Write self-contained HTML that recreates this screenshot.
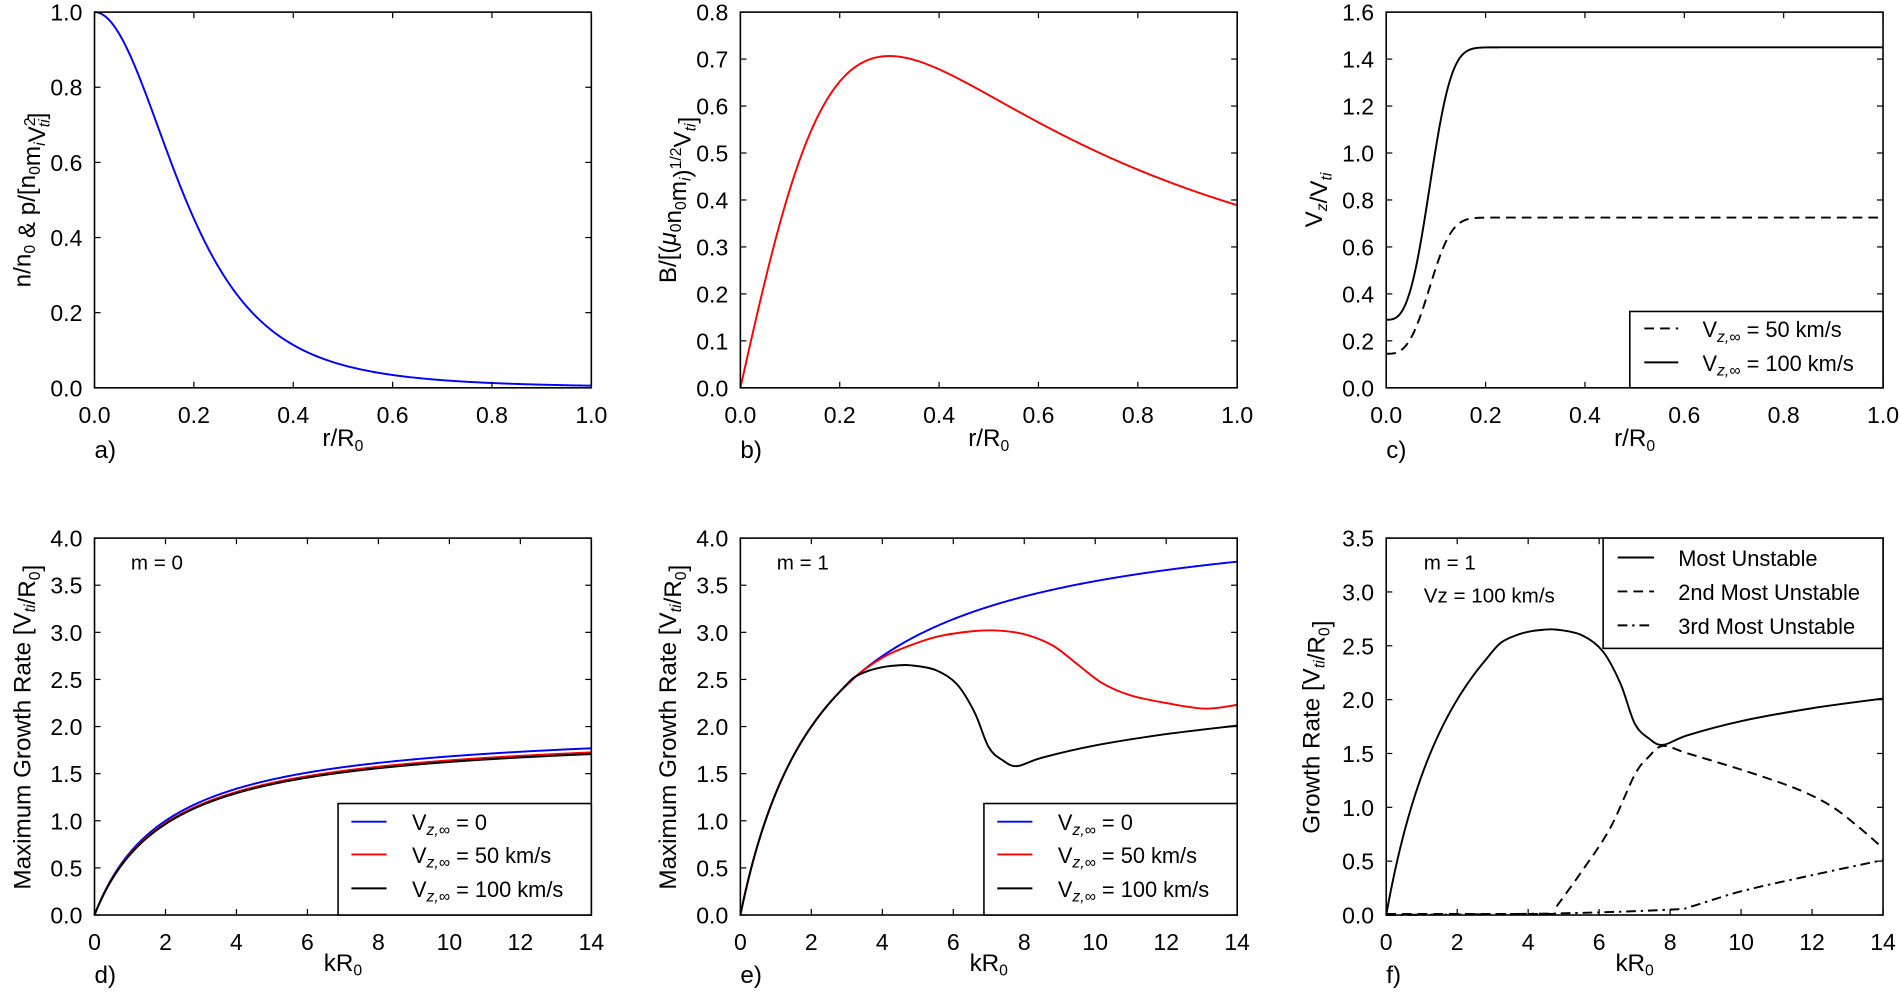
<!DOCTYPE html>
<html><head><meta charset="utf-8">
<style>
html,body{margin:0;padding:0;background:#fff;}
svg{display:block;}
text{font-family:"Liberation Sans",sans-serif;fill:#000;}
</style></head>
<body>
<svg id="s" width="1900" height="995" viewBox="0 0 1568 821" preserveAspectRatio="none" xmlns="http://www.w3.org/2000/svg"></svg>
<script>
const S=document.getElementById('s');
let out='';
function P(L,T,R,B,x0,x1,y0,y1){return {L,T,R,B,x0,x1,y0,y1,
 X:v=>L+(v-x0)/(x1-x0)*(R-L), Y:v=>B-(v-y0)/(y1-y0)*(B-T)};}
function axes(p,xt,yt,xf,yf){
 out+=`<rect x="${p.L}" y="${p.T}" width="${p.R-p.L}" height="${p.B-p.T}" fill="none" stroke="#000" stroke-width="1.3"/>`;
 xt.forEach(v=>{const x=p.X(v);
  out+=`<line x1="${x}" y1="${p.B}" x2="${x}" y2="${p.B-5}" stroke="#000"/><line x1="${x}" y1="${p.T}" x2="${x}" y2="${p.T+5}" stroke="#000"/>`;
  out+=`<text x="${x}" y="${p.B+29}" font-size="19" text-anchor="middle">${xf(v)}</text>`;});
 yt.forEach(v=>{const y=p.Y(v);
  out+=`<line x1="${p.L}" y1="${y}" x2="${p.L+5}" y2="${y}" stroke="#000"/><line x1="${p.R}" y1="${y}" x2="${p.R-5}" y2="${y}" stroke="#000"/>`;
  out+=`<text x="${p.L-10}" y="${y+7}" font-size="19" text-anchor="end">${yf(v)}</text>`;});
}
function rng(a,b,s){const r=[];for(let v=a;v<=b+1e-9;v+=s)r.push(+v.toFixed(6));return r;}
function fpath(p,f,a,b,col,dash,w){let d='';const n=400;for(let i=0;i<=n;i++){const x=a+(b-a)*i/n;d+=(i?'L':'M')+p.X(x).toFixed(2)+','+p.Y(f(x)).toFixed(2);}
 out+=`<path d="${d}" fill="none" stroke="${col}" stroke-width="${w||1.6}" ${dash?`stroke-dasharray="${dash}"`:''}/>`;}
function spath(p,pts,col,dash){
 let d='M'+p.X(pts[0][0])+','+p.Y(pts[0][1]);
 const q=pts.map(a=>[p.X(a[0]),p.Y(a[1])]);
 for(let i=0;i<q.length-1;i++){const p0=q[Math.max(0,i-1)],p1=q[i],p2=q[i+1],p3=q[Math.min(q.length-1,i+2)];
  d+=`C${p1[0]+(p2[0]-p0[0])/6},${p1[1]+(p2[1]-p0[1])/6} ${p2[0]-(p3[0]-p1[0])/6},${p2[1]-(p3[1]-p1[1])/6} ${p2[0]},${p2[1]}`;}
 out+=`<path d="${d}" fill="none" stroke="${col}" stroke-width="1.6" ${dash?`stroke-dasharray="${dash}"`:''}/>`;}
const f1=v=>v.toFixed(1), f0=v=>String(v);
const a=P(78,10,488,320,0,1,0,1), b=P(611,10,1021,320,0,1,0,0.8), c=P(1144,10,1554,320,0,1,0,1.6);
const d=P(78,444,488,755,0,14,0,4), e=P(611,444,1021,755,0,14,0,4), f=P(1144,444,1554,755,0,14,0,3.5);
fpath(a,r=>1/Math.pow(1+(r/0.2857)**2,2),0,1,'#0000ff');
fpath(b,r=>4.71*r/(1+(r/0.3)**2),0,1,'#ff0000');
const vz=r=>0.29+1.16*(1-Math.exp(-Math.pow(r/0.1,3)));
fpath(c,vz,0,1,'#000');
fpath(c,r=>vz(r)/2,0,1,'#000','8,5');
const g0=(k,A,B)=>A*k/(k+B);
fpath(d,k=>g0(k,2.03,2.06),0,14,'#0000ff');
fpath(d,k=>g0(k,2.03,2.06)*0.975,0,14,'#ff0000');
fpath(d,k=>g0(k,2.03,2.06)*0.965,0,14,'#000');
const g1=k=>g0(k,4.39,2.39);
fpath(e,g1,0,14,'#0000ff');
const red=[[3.0,g1(3.0)],[3.4,g1(3.4)],[4.0,2.73],[4.5,2.82],[5.5,2.95],[6.5,3.01],[7.2,3.02],[8,2.98],[8.8,2.86],[9.5,2.66],[10.2,2.46],[11,2.33],[12,2.25],[13.1,2.19],[14,2.23]];
fpath(e,g1,0,3.0,'#ff0000');
spath(e,red,'#ff0000');
const blk=[[2.8,g1(2.8)],[3.2,2.52],[3.6,2.59],[4.0,2.63],[4.4,2.648],[4.8,2.65],[5.5,2.6],[6.1,2.45],[6.6,2.15],[7.0,1.78],[7.4,1.64],[7.8,1.58],[8.5,1.67],[10,1.8],[12,1.92],[14,2.01]];
fpath(e,g1,0,2.8,'#000');spath(e,blk,'#000');
fpath(f,g1,0,2.8,'#000');spath(f,blk,'#000');
spath(f,[[0,0.01],[4.8,0.01]],'#000','8,5');
spath(f,[[4.8,0.08],[5.5,0.4],[6.3,0.8],[7.0,1.3],[7.4,1.47],[7.8,1.57],[8.5,1.5],[10,1.35],[11.5,1.18],[12.5,1.02],[13.3,0.82],[14,0.62]],'#000','8,5');
spath(f,[[0,0.0],[4.8,0.015],[8,0.05],[8.6,0.08],[10,0.22],[12,0.37],[14,0.51]],'#000','8,4,2,4');
axes(a,rng(0,1,0.2),rng(0,1,0.2),f1,f1);
axes(b,rng(0,1,0.2),rng(0,0.8,0.1),f1,f1);
axes(c,rng(0,1,0.2),rng(0,1.6,0.2),f1,f1);
axes(d,rng(0,14,2),rng(0,4,0.5),f0,f1);
axes(e,rng(0,14,2),rng(0,4,0.5),f0,f1);
axes(f,rng(0,14,2),rng(0,3.5,0.5),f0,f1);
[[a,'r/R<tspan font-size="13" dy="4">0</tspan>','a)',368],[b,'r/R<tspan font-size="13" dy="4">0</tspan>','b)',368],[c,'r/R<tspan font-size="13" dy="4">0</tspan>','c)',368],
 [d,'kR<tspan font-size="13" dy="4">0</tspan>','d)',801],[e,'kR<tspan font-size="13" dy="4">0</tspan>','e)',801],[f,'kR<tspan font-size="13" dy="4">0</tspan>','f)',801]].forEach(([p,t,l,y])=>{
 out+=`<text x="${(p.L+p.R)/2}" y="${y}" font-size="20" text-anchor="middle">${t}</text>`;
 out+=`<text x="${p.L}" y="${y+10}" font-size="20">${l}</text>`;});
function yl(x,y,t){out+=`<text transform="translate(${x},${y}) rotate(-90)" font-size="20" text-anchor="middle">${t}</text>`;}
const sub=(t)=>`<tspan font-size="13" dy="4">${t}</tspan><tspan dy="-4"></tspan>`;
const it=(t)=>`<tspan font-size="13" dy="4" font-style="italic">${t}</tspan><tspan dy="-4"></tspan>`;
yl(25,165,`n/n${sub('0')} &amp; p/[n${sub('0')}m${it('i')}V<tspan font-size="13" dy="-8">2</tspan><tspan font-size="13" dy="12" dx="-8" font-style="italic">ti</tspan><tspan dy="-4">]</tspan>`);
yl(558,165,`B/[(<tspan font-style="italic">μ</tspan>${sub('0')}n${sub('0')}m${it('i')})<tspan font-size="13" dy="-8">1/2</tspan><tspan dy="8">V</tspan>${it('ti')}]`);
yl(1091,165,`V${it('z')}/V${it('ti')}`);
yl(25,600,`Maximum Growth Rate [V${it('ti')}/R${sub('0')}]`);
yl(558,600,`Maximum Growth Rate [V${it('ti')}/R${sub('0')}]`);
yl(1089,600,`Growth Rate [V${it('ti')}/R${sub('0')}]`);
const vzi='V<tspan font-size="13" dy="4" font-style="italic">z,∞</tspan><tspan dy="-4"> = </tspan>';
out+=`<rect x="1345" y="257" width="209" height="63" fill="#fff" stroke="#000" stroke-width="1.3"/>`;
out+=`<line x1="1357" y1="271" x2="1385" y2="271" stroke="#000" stroke-width="1.6" stroke-dasharray="8,5"/><text x="1405" y="278" font-size="18">${vzi}50 km/s</text>`;
out+=`<line x1="1357" y1="299" x2="1385" y2="299" stroke="#000" stroke-width="1.6"/><text x="1405" y="306" font-size="18">${vzi}100 km/s</text>`;
[279,812].forEach(x=>{
 out+=`<rect x="${x}" y="663" width="${(x==279?488:1021)-x}" height="92" fill="#fff" stroke="#000" stroke-width="1.3"/>`;
 [['#0000ff','0',678],['#ff0000','50 km/s',705],['#000','100 km/s',733]].forEach(([col,t,y])=>{
  out+=`<line x1="${x+11}" y1="${y}" x2="${x+40}" y2="${y}" stroke="${col}" stroke-width="1.6"/><text x="${x+61}" y="${y+7}" font-size="18">${vzi}${t}</text>`;});
});
out+=`<rect x="1323" y="444" width="231" height="91" fill="#fff" stroke="#000" stroke-width="1.3"/>`;
[['',460,'Most Unstable'],['8,5',488,'2nd Most Unstable'],['8,4,2,4',516,'3rd Most Unstable']].forEach(([ds,y,t])=>{
 out+=`<line x1="1335" y1="${y}" x2="1365" y2="${y}" stroke="#000" stroke-width="1.6" ${ds?`stroke-dasharray="${ds}"`:''}/><text x="1385" y="${y+7}" font-size="18">${t}</text>`;});
out+=`<text x="108" y="470" font-size="17">m = 0</text><text x="641" y="470" font-size="17">m = 1</text>`;
out+=`<text x="1175" y="470" font-size="17">m = 1</text><text x="1175" y="497" font-size="17">Vz = 100 km/s</text>`;
S.innerHTML=out;
</script>
</body></html>
